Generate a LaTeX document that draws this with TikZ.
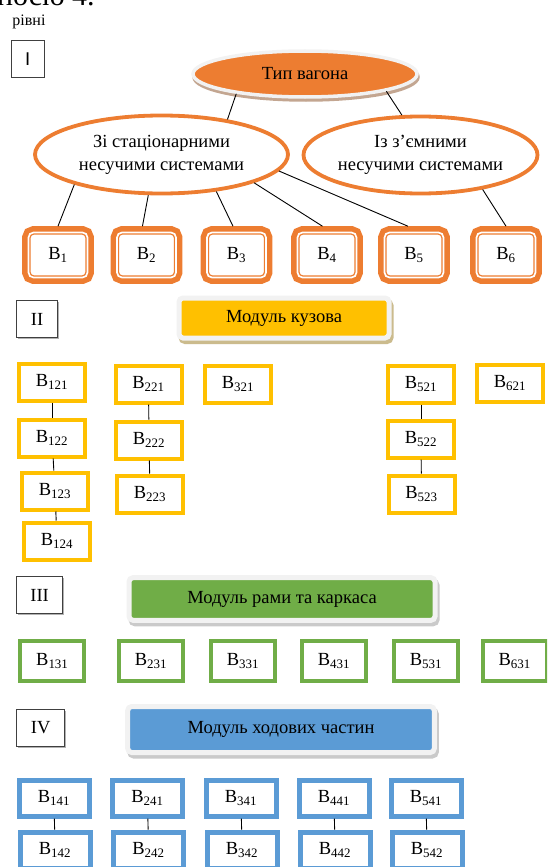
\documentclass[tikz,border=0pt]{standalone}
\usepackage{fontspec}
\setmainfont{Liberation Serif}
\newfontfamily\romanI{Liberation Sans}
\usetikzlibrary{shapes.geometric}
\definecolor{vorange}{HTML}{ED7D31}
\definecolor{vyellow}{HTML}{FFC000}
\definecolor{vgreen}{HTML}{70AD47}
\definecolor{vblue}{HTML}{5B9BD5}
\definecolor{vframe}{HTML}{F2F2F2}
\definecolor{vtan}{HTML}{C3A691}
\definecolor{vkhaki}{HTML}{CBBB8D}
\definecolor{vshade}{HTML}{CACACA}
\newcommand{\vb}[1]{В\textsubscript{#1}}

\begin{document}
\begin{tikzpicture}
  [x=1pt,y=-1pt,
   every node/.style={font=\fontsize{18.5}{23}\selectfont,inner sep=0pt},
   lvl/.style={rectangle,draw=black!75,line width=.8pt,fill=white,minimum height=37pt,
     preaction={fill=black!30,transform canvas={xshift=1.2pt,yshift=-1.2pt}}},
   topoval/.style={ellipse,fill=vorange,draw=vframe,line width=3.5pt,
     minimum width=224pt,minimum height=46pt,
     preaction={draw=vtan,fill=vtan,line width=3.5pt,transform canvas={xshift=1pt,yshift=-3pt}}},
   oval/.style={ellipse,draw=vorange,line width=3.8pt,fill=white,align=center},
   obox/.style={rectangle,rounded corners=5pt,minimum width=59pt,minimum height=45pt,
     outer sep=6.3pt,fill=white,draw=vorange,line width=1.3pt,double=white,double distance=1.7pt,
     preaction={draw=vorange,line width=12.7pt}},
   modbar/.style={rectangle,rounded corners=4pt,draw=vframe,line width=5pt,
     preaction={draw=#1,fill=#1,line width=5pt,transform canvas={xshift=2pt,yshift=-3.5pt}}},
   ybox/.style={rectangle,draw=vyellow,line width=4pt,fill=white,minimum width=66pt,minimum height=37pt},
   gbox/.style={rectangle,draw=vgreen,line width=4pt,fill=white,minimum width=64pt,minimum height=40pt},
   bluebox/.style={rectangle,draw=vblue,line width=5pt,fill=white,minimum width=70pt,minimum height=36pt},
   conn/.style={draw=black,line width=.9pt}]
  \path[use as bounding box,clip] (0,0) rectangle (547,867);

  \node[anchor=base west,font=\fontsize{30}{30}\selectfont] (prevline) at (-3,6) {носю 4.};
  \node[font=\fontsize{16}{18}\selectfont] (levels) at (29,22) {рівні};

  \node[lvl,minimum width=33pt] (lvl1) at (27.7,58.7) {\romanI I};
  \node[lvl,minimum width=41pt] (lvl2) at (37,319) {II};
  \node[lvl,minimum width=46pt] (lvl3) at (39.6,595) {III};
  \node[lvl,minimum width=48pt] (lvl4) at (40.6,728) {IV};

  % level I
  \node[topoval] (vtype) at (305,74) {Тип вагона};
  \node[oval,minimum width=253pt,minimum height=78pt] (vstat) at (161.5,154.5) {Зі стаціонарними\\несучими системами};
  \node[oval,minimum width=234pt,minimum height=77pt] (vremov) at (420.5,155) {Із з’ємними\\несучими системами};

  \foreach \n/\x in {1/58,2/146.5,3/236.5,4/327,5/414,6/506}
    \node[obox] (v\n) at (\x,255) {\vb{\n}};

  \foreach \from/\to in {vtype.196/vstat.28,vtype.348/vremov.115,vstat.199/v1.north,vstat.252/v2.98,
      vstat.326/v3.97,vstat.343/v4.99,vstat.352/v5.102,vremov.331/v6.north}
    \draw[conn] (\from) -- (\to);

  % level II
  \node[modbar=vkhaki,fill=vyellow,minimum width=210pt,minimum height=40pt] (mbody) at (284,318) {Модуль кузова};

  \node[ybox] (v121) at (52,382) {\vb{121}};
  \node[ybox] (v122) at (52,438) {\vb{122}};
  \node[ybox] (v123) at (55,491) {\vb{123}};
  \node[ybox] (v124) at (57,541) {\vb{124}};
  \node[ybox] (v221) at (148.5,384) {\vb{221}};
  \node[ybox] (v222) at (149,440) {\vb{222}};
  \node[ybox] (v223) at (150,494) {\vb{223}};
  \node[ybox] (v321) at (238,384) {\vb{321}};
  \node[ybox] (v521) at (421,384) {\vb{521}};
  \node[ybox] (v522) at (421,439) {\vb{522}};
  \node[ybox] (v523) at (421.5,494) {\vb{523}};
  \node[ybox] (v621) at (510,383) {\vb{621}};

  % level III
  \node[modbar=vshade,fill=vgreen,minimum width=306pt,minimum height=42.6pt] (mframe) at (282,599) {Модуль рами та каркаса};

  \foreach \n/\x in {1/52.3,2/151,3/243,4/334,5/426,6/514.7}
    \node[gbox] (v\n31) at (\x,661) {\vb{\n31}};

  % level IV
  \node[modbar=vshade,fill=vblue,minimum width=306.6pt,minimum height=46pt] (mrun) at (281,729.5) {Модуль ходових частин};

  \foreach \n/\x in {1/54,2/147.5,3/241,4/334,5/426}{
    \node[bluebox] (v\n41) at (\x,798) {\vb{\n41}};
    \node[bluebox] (v\n42) at (\x+1,850) {\vb{\n42}};
  }

  \foreach \from/\to in {v121/v122,v122/v123,v123/v124,v221/v222,v222/v223,v521/v522,v522/v523,
      v141/v142,v241/v242,v341/v342,v441/v442,v541/v542}
    \draw[conn] (\from) -- (\to);
\end{tikzpicture}
\end{document}
